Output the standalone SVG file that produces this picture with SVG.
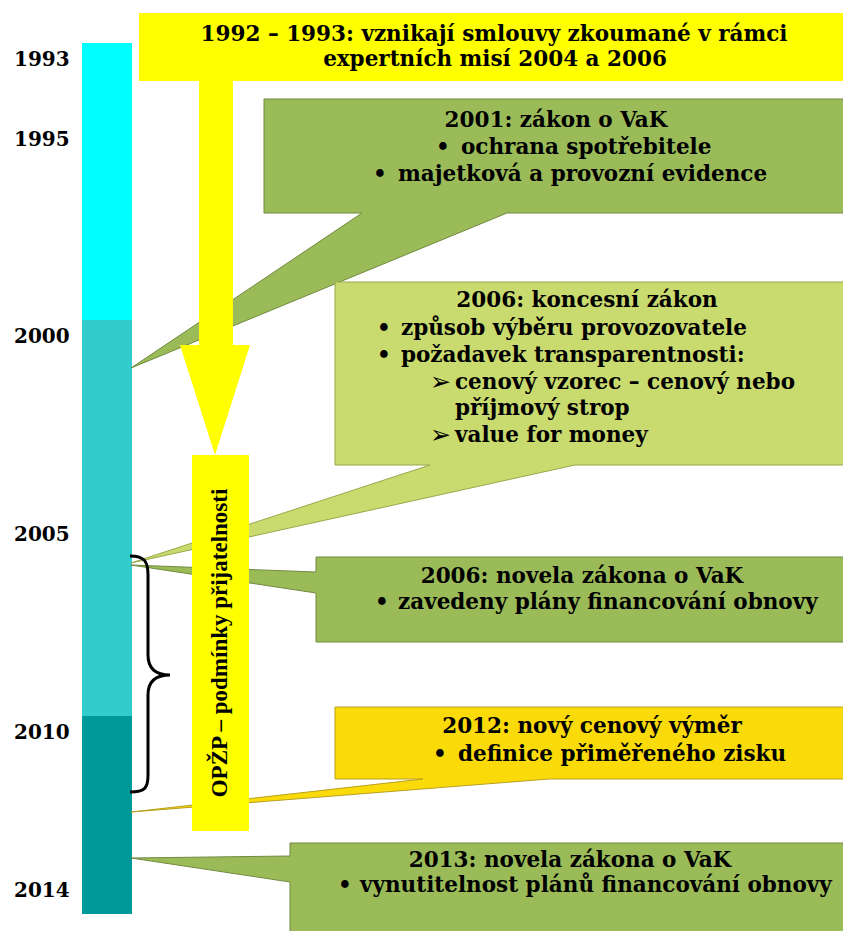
<svg xmlns="http://www.w3.org/2000/svg" width="843" height="931" viewBox="0 0 843 931">
<style>
.t{font-family:"DejaVu Serif","Liberation Serif",serif;font-weight:bold;font-size:21.5px;fill:#000}
.yr{font-family:"DejaVu Serif","Liberation Serif",serif;font-weight:bold;font-size:20px;fill:#000}
.m{text-anchor:middle}
.ar{font-family:"DejaVu Sans",sans-serif;font-weight:bold;font-size:25px;fill:#000}
.v{font-family:"Liberation Serif","Times New Roman",serif;font-weight:bold;font-size:23px;fill:#000}
.g{fill:#9BBB59;stroke:#71893F;stroke-width:1}
.lg{fill:#C9DA6E;stroke:#98A84A;stroke-width:1}
.gd{fill:#FBDA0A;stroke:#B8A020;stroke-width:1}
.y{fill:#FFFF00}
</style>
<rect width="843" height="931" fill="#fff"/>
<g id="timeline">
<rect x="82" y="43" width="50" height="277" fill="#00FFFF"/>
<rect x="82" y="320" width="50" height="396" fill="#33CCCC"/>
<rect x="82" y="716" width="50" height="198" fill="#009999"/>
<text class="yr" x="14" y="66">1993</text>
<text class="yr" x="14" y="146">1995</text>
<text class="yr" x="14" y="343">2000</text>
<text class="yr" x="14" y="541">2005</text>
<text class="yr" x="14" y="739">2010</text>
<text class="yr" x="14" y="897">2014</text>
</g>
<g id="c2001">
<path class="g" d="M264,99 H846 V213 H507 L131,368 L362,213 H264 Z"/>
<text class="t m" x="556" y="127">2001: zákon o VaK</text>
<text class="t" x="436" y="154">•</text><text class="t" x="461" y="154">ochrana spotřebitele</text>
<text class="t" x="373" y="181">•</text><text class="t" x="398" y="181">majetková a provozní evidence</text>
</g>
<g id="c2006k">
<path class="lg" d="M335,282 H846 V465 H575 L131,563 L430,465 H335 Z"/>
<text class="t m" x="587" y="307">2006: koncesní zákon</text>
<text class="t" x="377" y="335">•</text><text class="t" x="401" y="335">způsob výběru provozovatele</text>
<text class="t" x="377" y="362">•</text><text class="t" x="401" y="362">požadavek transparentnosti:</text>
<text class="ar" x="430" y="390">➢</text><text class="t" x="455" y="389">cenový vzorec – cenový nebo</text>
<text class="t" x="455" y="415">příjmový strop</text>
<text class="ar" x="430" y="443">➢</text><text class="t" x="455" y="442">value for money</text>
</g>
<g id="c2006n">
<path class="g" d="M316,557 H846 V642 H316 V593 L131,565 L316,572 Z"/>
<text class="t m" x="582" y="583">2006: novela zákona o VaK</text>
<text class="t" x="375" y="609">•</text><text class="t" x="398" y="609">zavedeny plány financování obnovy</text>
</g>
<g id="c2012">
<path class="gd" d="M335,707 H846 V779 H549 L131,812 L423,779 H335 Z"/>
<text class="t m" x="592" y="733">2012: nový cenový výměr</text>
<text class="t" x="433" y="761">•</text><text class="t" x="458" y="761">definice přiměřeného zisku</text>
</g>
<g id="c2013">
<path class="g" d="M290,843 H846 V935 H290 V882 L131,858 L290,856 Z"/>
<text class="t m" x="570" y="867">2013: novela zákona o VaK</text>
<text class="t" x="338" y="892">•</text><text class="t" x="360" y="892">vynutitelnost plánů financování obnovy</text>
</g>
<g id="connectors">
<path class="y" d="M199,80 H233 V345 H250 L215,455 L180,345 H199 Z"/>
<path d="M130,556 C145,556 148,562 148,575 L148,655 C148,668 155,675 170,675 C155,675 148,682 148,695 L148,775 C148,788 145,792 130,792" fill="none" stroke="#000" stroke-width="3"/>
</g>
<g id="top">
<rect class="y" x="139" y="13" width="704" height="68"/>
<text class="t m" x="494" y="41">1992 – 1993: vznikají smlouvy zkoumané v rámci</text>
<text class="t m" x="495" y="66">expertních misí 2004 a 2006</text>
</g>
<g id="oppz">
<rect class="y" x="192" y="455" width="57" height="376"/>
<text class="v m" transform="translate(227,643) rotate(-90)">OPŽP – podmínky přijatelnosti</text>
</g>
</svg>
